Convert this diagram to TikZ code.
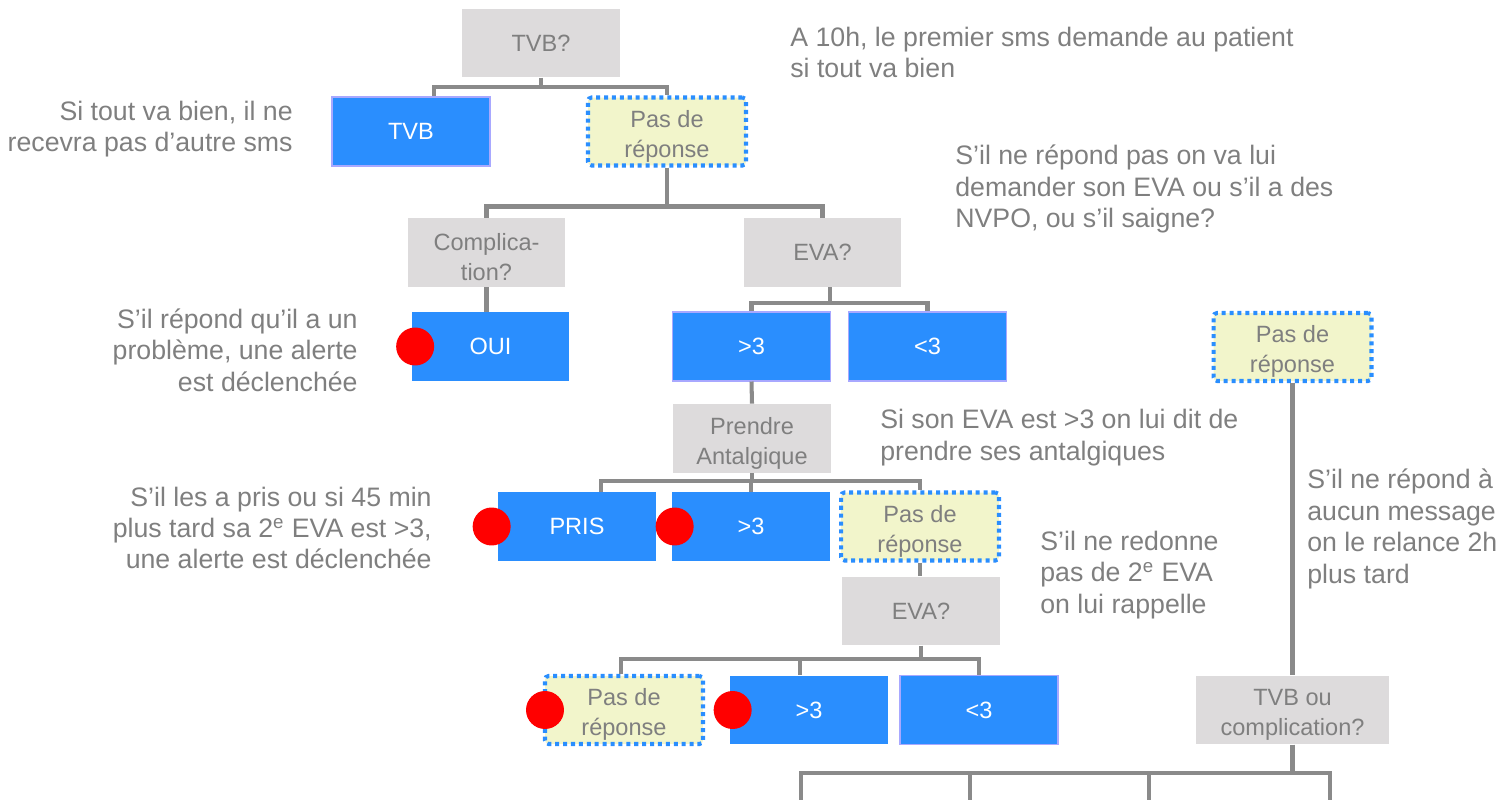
\documentclass[tikz,border=0pt]{standalone}
\usepackage{fontspec}
\setmainfont{Liberation Sans}
\usepackage{xcolor}
\usetikzlibrary{positioning,calc}
\definecolor{boxgray}{HTML}{DDDBDC}
\definecolor{txtgray}{HTML}{7F7F7F}
\definecolor{boxblue}{HTML}{2A8EFE}
\definecolor{lavender}{HTML}{A8A8FF}
\definecolor{noyellow}{HTML}{F2F5CB}
\definecolor{dotblue}{HTML}{2A8EFE}
\definecolor{linegray}{HTML}{8A8A8A}
\definecolor{alertred}{HTML}{FF0000}

\begin{document}
\begin{tikzpicture}[x=0.02cm, y=-0.02cm,
    boxbase/.style={font=\fontsize{13.4}{17}\selectfont, inner sep=0pt, align=center},
    qbox/.style={boxbase, rectangle, fill=boxgray, text=txtgray, minimum width=3.16cm, minimum height=1.38cm},
    abox/.style={boxbase, rectangle, fill=boxblue, text=white, minimum width=3.16cm, minimum height=1.38cm},
    aboxl/.style={abox, draw=lavender, line width=0.6pt},
    twoline/.style={text height=32pt},
    nbox/.style={boxbase, twoline, rectangle, fill=noyellow, draw=dotblue, line width=2.3pt, dash pattern=on 2.3pt off 2.2pt, rounded corners=2pt, text=txtgray, minimum width=3.16cm, minimum height=1.36cm},
    note/.style={font=\fontsize{15.2}{17.9}\selectfont, inner sep=0pt, text=txtgray},
    branch/.style={draw=linegray, line width=2.3pt},
    alert/.style={circle, fill=alertred, minimum size=0.76cm, inner sep=0pt}
]
    \useasboundingbox (0,0) rectangle (1499,800);

    \node[qbox] (tvbq) at (541,43) {TVB?};
    \node[aboxl] (tvb) at (411,131.5) {TVB};
    \node[nbox] (pdrA) at (667,131.5) {Pas de\\réponse};
    \node[qbox, twoline] (comp) at (486.5,252.5) {Complica-\\tion?};
    \node[qbox] (evaA) at (822.5,252.5) {EVA?};
    \node[abox] (oui) at (490.5,346.5) {OUI};
    \node[aboxl] (supA) at (751.5,346.5) {>3};
    \node[aboxl] (infA) at (927.5,346.5) {<3};
    \node[qbox, twoline] (antal) at (752,438.5) {Prendre\\Antalgique};
    \node[abox] (pris) at (577,526.5) {PRIS};
    \node[abox] (supB) at (751,526.5) {>3};
    \node[nbox] (pdrB) at (920,526.5) {Pas de\\réponse};
    \node[qbox] (evaB) at (921,611) {EVA?};
    \node[nbox] (pdrC) at (624,710) {Pas de\\réponse};
    \node[abox] (supC) at (809,710) {>3};
    \node[aboxl] (infC) at (979,710) {<3};
    \node[nbox] (pdrD) at (1292.5,347) {Pas de\\réponse};
    \node[qbox, twoline, minimum width=3.86cm] (tvbc) at (1292.5,710) {TVB ou\\complication?};

    \coordinate (endA) at (801,800);
    \coordinate (endB) at (970,800);
    \coordinate (endC) at (1149,800);
    \coordinate (endD) at (1330,800);

    \draw[branch] (tvbq.south) -- ++(0,9) -| ([xshift=0.46cm]tvb.north);
    \draw[branch] (tvbq.south) -- ++(0,9) -| (pdrA.north);
    \draw[branch] (pdrA.south) -- ++(0,39) -| (comp.north);
    \draw[branch] (pdrA.south) -- ++(0,39) -| (evaA.north);
    \draw[branch] (comp.south) -- (comp.south |- oui.north);
    \draw[branch] ([xshift=0.15cm]evaA.south) -- ++(0,16) -| (supA.north);
    \draw[branch] ([xshift=0.15cm]evaA.south) -- ++(0,16) -| (infA.north);
    \draw[branch] (supA.south) -- (antal.north);
    \draw[branch] (antal.south) -- ++(0,8) -| ([xshift=0.48cm]pris.north);
    \draw[branch] (antal.south) -- ++(0,8) -| (supB.north);
    \draw[branch] (antal.south) -- ++(0,8) -| (pdrB.north);
    \draw[branch] (pdrB.south) -- (pdrB.south |- evaB.north);
    \draw[branch] (evaB.south) -- ++(0,13) -| ([xshift=-0.06cm]pdrC.north);
    \draw[branch] (evaB.south) -- ++(0,13) -| ([xshift=-0.18cm]supC.north);
    \draw[branch] (evaB.south) -- ++(0,13) -| (infC.north);
    \draw[branch] (pdrD.south) -- (tvbc.north);
    \draw[branch] (tvbc.south) -- ++(0,28) -| (endA);
    \draw[branch] (tvbc.south) -- ++(0,28) -| (endB);
    \draw[branch] (tvbc.south) -- ++(0,28) -| (endC);
    \draw[branch] (tvbc.south) -- ++(0,28) -| (endD);

    \node[alert] (dotOui) at ([xshift=0.08cm]oui.west) {};
    \node[alert] (dotPris) at ([xshift=-0.12cm]pris.west) {};
    \node[alert] (dotSupB) at ([xshift=0.06cm]supB.west) {};
    \node[alert] (dotPdrC) at ([xshift=0.04cm]pdrC.west) {};
    \node[alert] (dotSupC) at ([xshift=0.06cm]supC.west) {};

    \node[note, anchor=west, align=left] (noteStart) at (790,52.5) {A 10h, le premier sms demande au patient\\si tout va bien};
    \node[note, anchor=east, align=right] (noteTvb) at (293,129) {Si tout va bien, il ne\\recevra pas d’autre sms};
    \node[note, anchor=west, align=left] (noteSilence) at (955,189) {S’il ne répond pas on va lui\\demander son EVA ou s’il a des\\NVPO, ou s’il saigne?};
    \node[note, anchor=east, align=right] (noteComp) at (358,350) {S’il répond qu’il a un\\problème, une alerte\\est déclenchée};
    \node[note, anchor=west, align=left] (noteEva) at (880,437.5) {Si son EVA est >3 on lui dit de\\prendre ses antalgiques};
    \node[note, anchor=east, align=right] (notePris) at (432,528) {S’il les a pris ou si 45 min\\plus tard sa 2\textsuperscript{e} EVA est >3,\\une alerte est déclenchée};
    \node[note, anchor=west, align=left] (noteRappel) at (1040,575) {S’il ne redonne\\pas de 2\textsuperscript{e} EVA\\on lui rappelle};
    \node[note, anchor=west, align=left] (noteRelance) at (1307,529) {S’il ne répond à\\aucun message\\on le relance 2h\\plus tard};
\end{tikzpicture}
\end{document}
